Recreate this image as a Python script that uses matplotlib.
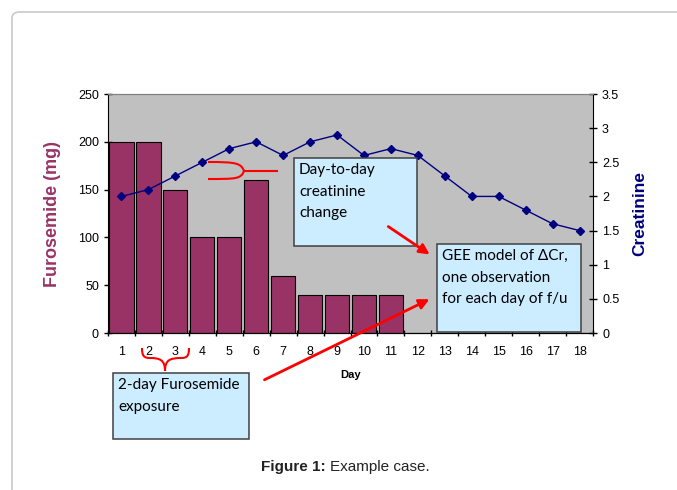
import matplotlib.pyplot as plt
from matplotlib.patches import Rectangle, FancyBboxPatch, FancyArrowPatch, PathPatch
from matplotlib.path import Path
import numpy as np

days = list(range(1, 19))
furosemide = [200, 200, 150, 100, 100, 160, 60, 40, 40, 40, 40, 0, 0, 0, 0, 0, 0, 0]
creatinine = [2.0, 2.1, 2.3, 2.5, 2.7, 2.8, 2.6, 2.8, 2.9, 2.6, 2.7, 2.6, 2.3, 2.0, 2.0, 1.8, 1.6, 1.5]

W, H = 677, 490
BAR = "#993366"
LINE = "#000080"
BOX = "#CCECFF"
RED = "#FF0000"
TXT = ["Lato", "DejaVu Sans"]

plt.rcParams['font.family'] = ['Liberation Sans', 'DejaVu Sans']


def fx(x):
    return x / W


def fy(y):
    return 1 - y / H


def pts(seq):
    return [(fx(x), fy(y)) for x, y in seq]


fig = plt.figure(figsize=(W / 100, H / 100), dpi=100)

# outer page frame with rounded corner
fig.patches.append(FancyBboxPatch((fx(12), fy(520)), fx(700), 520 / H - 12 / H,
                                  boxstyle="round,pad=0,rounding_size=0.012",
                                  transform=fig.transFigure, fill=False,
                                  edgecolor="#c8c8c8", linewidth=1.2))

ax = fig.add_axes([fx(108), fy(333), fx(593 - 108), (333 - 94) / H])
ax.set_facecolor("#C0C0C0")
ax.bar(days, furosemide, width=0.9, color=BAR, edgecolor="black", linewidth=0.8, zorder=2)
ax.set_xlim(0.5, 18.5)
ax.set_ylim(0, 250)
ax.set_yticks(range(0, 251, 50))
ax.set_xticks(days)
ax.set_xticks(np.arange(0.5, 18.6, 1), minor=True)
ax.tick_params(axis='x', which='major', length=0, labelsize=9, pad=9)
ax.tick_params(axis='x', which='minor', length=5, direction='inout', width=1)
ax.tick_params(axis='y', length=6, direction='inout', labelsize=9, width=1)
ax.set_xlabel("Day", fontsize=8, fontweight='bold', labelpad=9)
ax.set_ylabel("Furosemide (mg)", fontsize=13, fontweight='bold', color=BAR, labelpad=12)
ax.spines['top'].set_color("#808080")
ax.spines['right'].set_visible(False)

ax2 = ax.twinx()
ax2.plot(days, creatinine, color=LINE, linewidth=1, marker='D', markersize=4, zorder=3)
ax2.set_ylim(0, 3.5)
ax2.set_yticks([0, 0.5, 1, 1.5, 2, 2.5, 3, 3.5])
ax2.set_yticklabels(["0", "0.5", "1", "1.5", "2", "2.5", "3", "3.5"])
ax2.tick_params(axis='y', length=6, direction='inout', labelsize=9, width=1)
ax2.set_ylabel("Creatinine", fontsize=12.5, fontweight='bold', color=LINE, labelpad=9)
ax2.spines['top'].set_color("#808080")
ax2.spines['left'].set_visible(False)

# annotation boxes
boxes = [
    ((294, 158, 417, 246), "Day-to-day\ncreatinine\nchange"),
    ((437, 244, 581, 332), "GEE model of ΔCr,\none observation\nfor each day of f/u"),
    ((113, 373, 249, 439), "2-day Furosemide\nexposure"),
]
for (x0, y0, x1, y1), label in boxes:
    fig.patches.append(Rectangle((fx(x0), fy(y1)), fx(x1 - x0), (y1 - y0) / H,
                                 transform=fig.transFigure, facecolor=BOX,
                                 edgecolor="#404040", linewidth=1.1, zorder=5))
    fig.text(fx(x0 + 5), fy(y0 + 5), label, family=TXT, fontsize=11,
             va='top', ha='left', linespacing=1.7, zorder=6)

# red arrows
for start, end in [((386, 225), (432, 256)), ((262, 381), (432, 298))]:
    a = FancyArrowPatch(pts([start])[0], pts([end])[0], transform=fig.transFigure,
                        arrowstyle='-|>,head_length=6,head_width=3', color=RED,
                        linewidth=2, zorder=7)
    fig.patches.append(a)

# red braces
brace1 = [(208, 162), (236, 162), (241, 163), (244, 171),
          (241, 179), (236, 179), (208, 179)]
codes1 = [Path.MOVETO, Path.CURVE4, Path.CURVE4, Path.CURVE4,
          Path.CURVE4, Path.CURVE4, Path.CURVE4]
fig.patches.append(PathPatch(Path(pts(brace1), codes1), transform=fig.transFigure,
                             fill=False, edgecolor=RED, linewidth=1.5, zorder=7))
fig.add_artist(plt.Line2D([fx(244), fx(277)], [fy(171), fy(171)], color=RED,
                          linewidth=1.5, transform=fig.transFigure, zorder=7))

brace2 = [(142, 348), (142, 356), (144, 358), (150, 358),
          (160, 358), (165, 360), (165, 371),
          (165, 360), (170, 358), (181, 358),
          (187, 358), (189, 356), (189, 348)]
codes2 = [Path.MOVETO, Path.CURVE4, Path.CURVE4, Path.CURVE4,
          Path.CURVE4, Path.CURVE4, Path.CURVE4,
          Path.CURVE4, Path.CURVE4, Path.CURVE4,
          Path.CURVE4, Path.CURVE4, Path.CURVE4]
fig.patches.append(PathPatch(Path(pts(brace2), codes2), transform=fig.transFigure,
                             fill=False, edgecolor=RED, linewidth=1.5, zorder=7))

# caption
fig.text(fx(326), fy(467), "Figure 1:", fontsize=11, fontweight='bold',
         ha='right', va='center', color="#222222")
fig.text(fx(330), fy(467), "Example case.", fontsize=11,
         ha='left', va='center', color="#222222")

fig.savefig("out.png", dpi=100)
